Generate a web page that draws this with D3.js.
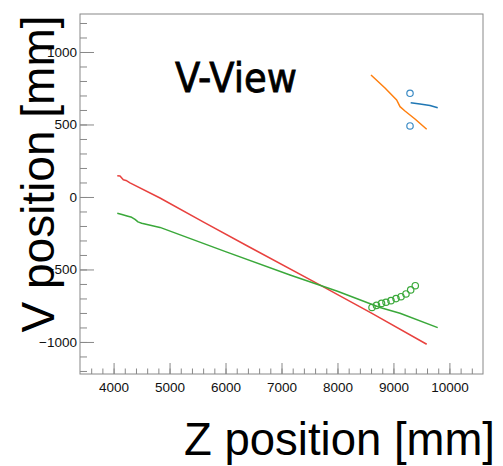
<!DOCTYPE html>
<html>
<head>
<meta charset="utf-8">
<script src="https://cdn.jsdelivr.net/npm/d3@7"></script>
<style>
  body { margin: 0; background: #fff; }
  svg { display: block; }
</style>
</head>
<body>
<div id="graph"></div>
<script>
// track data (Z, V) in mm
var redZ = [4066, 4115, 4174, 4222, 4293, 4829, 5600, 6400, 7700, 8600, 9594];
var redV = [147, 145, 119, 114, 97, -7, -172, -340, -610, -800, -1016];

var greenZ = [4066, 4150, 4240, 4324, 4383, 4436, 4502, 4829, 6000, 7152, 8000, 8760, 9117, 9791];
var greenV = [-112, -121, -131, -140, -155, -172, -181, -210, -377, -538, -650, -762, -802, -901];

var greenHitZ = [8617, 8697, 8787, 8867, 8956, 9046, 9135, 9224, 9308, 9390];
var greenHitV = [-762, -748, -734, -726, -715, -701, -688, -669, -641, -612];

var orangeZ = [8599, 8849, 9058, 9117, 9206, 9385, 9594];
var orangeV = [841, 752, 669, 623, 593, 538, 467];

var blueZ = [9308, 9474, 9653, 9791];
var blueV = [650, 641, 631, 616];

var blueHitZ = [9296, 9296];
var blueHitV = [715, 490];

var xTicks = [4000, 5000, 6000, 7000, 8000, 9000, 10000];
var yTicks = [-1000, -500, 0, 500, 1000];

var W = 503, H = 466;
var frame = {left: 80, right: 483, top: 14, bottom: 374};

var svg = d3.select("#graph").append("svg")
    .attr("width", W)
    .attr("height", H);

var x = d3.scaleLinear().domain([3400, 10600]).range([frame.left, frame.right]);
var y = d3.scaleLinear().domain([-1221, 1262]).range([frame.bottom, frame.top]);

var fmt = d => d3.format("d")(d).replace("-", "\u2212");

// frame
svg.append("rect")
    .attr("x", frame.left).attr("y", frame.top)
    .attr("width", frame.right - frame.left)
    .attr("height", frame.bottom - frame.top)
    .attr("fill", "none").attr("stroke", "#888").attr("stroke-width", 1);

// minor ticks
var xMinor = d3.range(3600, 10600, 200);
var yMinor = d3.range(-1200, 1262, 100);

svg.append("g")
    .attr("transform", "translate(0," + frame.bottom + ")")
    .call(d3.axisBottom(x).tickValues(xMinor).tickSizeInner(-5.5).tickSizeOuter(0).tickFormat(""))
    .call(g => g.select(".domain").remove());

svg.append("g")
    .attr("transform", "translate(" + frame.left + ",0)")
    .call(d3.axisLeft(y).tickValues(yMinor).tickSizeInner(-7).tickSizeOuter(0).tickFormat(""))
    .call(g => g.select(".domain").remove());

// major ticks + labels
svg.append("g")
    .attr("class", "xaxis")
    .attr("transform", "translate(0," + frame.bottom + ")")
    .call(d3.axisBottom(x).tickValues(xTicks).tickSizeInner(-11).tickSizeOuter(0).tickPadding(8).tickFormat(fmt))
    .call(g => g.select(".domain").remove());

svg.append("g")
    .attr("class", "yaxis")
    .attr("transform", "translate(" + frame.left + ",0)")
    .call(d3.axisLeft(y).tickValues(yTicks).tickSizeInner(-14).tickSizeOuter(0).tickPadding(3).tickFormat(fmt))
    .call(g => g.select(".domain").remove());

svg.selectAll(".tick line").attr("stroke", "#888");
svg.selectAll(".tick text")
    .attr("fill", "#111")
    .style("font-family", "'Liberation Sans', Arial, sans-serif")
    .style("font-size", "13.5px");

// tracks
var line = d3.line().x(d => x(d[0])).y(d => y(d[1]));
function drawLine(zs, vs, color) {
    svg.append("path")
        .datum(d3.zip(zs, vs))
        .attr("d", line)
        .attr("fill", "none")
        .attr("stroke", color)
        .attr("stroke-width", 1.5)
        .attr("stroke-linejoin", "round");
}
function drawHits(zs, vs, color) {
    svg.append("g").selectAll("circle")
        .data(d3.zip(zs, vs))
        .enter().append("circle")
        .attr("cx", d => x(d[0]))
        .attr("cy", d => y(d[1]))
        .attr("r", 3.2)
        .attr("fill", "none")
        .attr("stroke", color)
        .attr("stroke-width", 1.2);
}

drawLine(redZ, redV, "#e8413e");
drawLine(greenZ, greenV, "#3aa83a");
drawLine(orangeZ, orangeV, "#ff7f0e");
drawLine(blueZ, blueV, "#1f77b4");
drawHits(greenHitZ, greenHitV, "#3aa83a");
drawHits(blueHitZ, blueHitV, "#3a8ac4");

// titles
svg.append("text")
    .attr("x", 175).attr("y", 92)
    .attr("textLength", 122).attr("lengthAdjust", "spacingAndGlyphs")
    .attr("stroke", "#000").attr("stroke-width", 0.8)
    .style("font-family", "'DejaVu Sans', sans-serif")
    .style("font-size", "40px")
    .text("V-View");

svg.append("text")
    .attr("x", 184).attr("y", 455)
    .style("font-family", "'Liberation Sans', Arial, sans-serif")
    .style("font-size", "45.5px")
    .text("Z position [mm]");

svg.append("text")
    .attr("transform", "translate(54,174) rotate(-90)")
    .attr("text-anchor", "middle")
    .style("font-family", "'Liberation Sans', Arial, sans-serif")
    .style("font-size", "46px")
    .text("V position [mm]");
</script>
</body>
</html>
